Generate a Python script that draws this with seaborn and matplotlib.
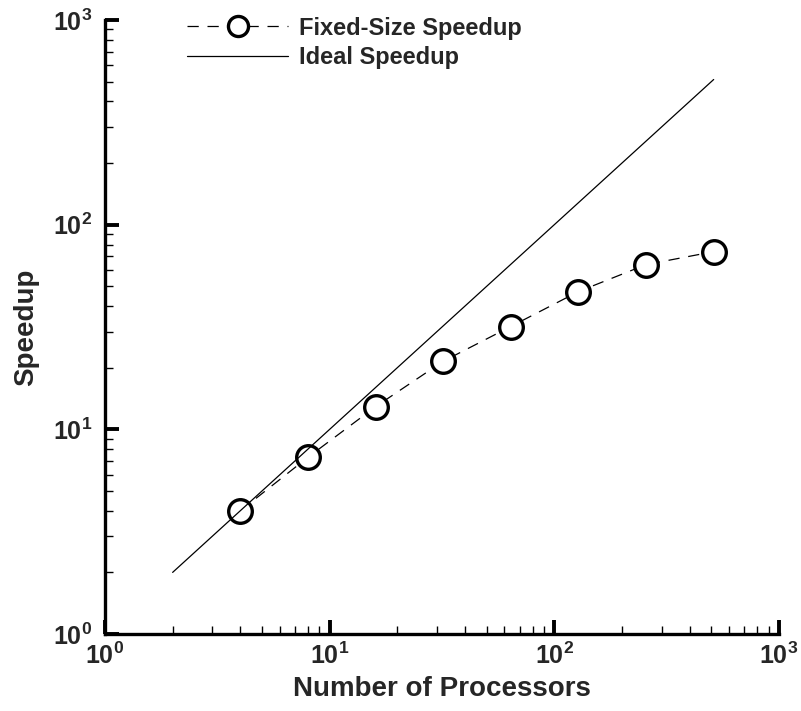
import numpy as np
import pandas as pd
import matplotlib
matplotlib.use("Agg")
import matplotlib.pyplot as plt
from matplotlib.ticker import FuncFormatter, LogLocator
import seaborn as sns

processors = [4, 8, 16, 32, 64, 128, 256, 512]
speedup = [4.0, 7.3, 12.9, 21.5, 31.8, 47.1, 63.8, 73.8]
ideal_x = [2, 512]
ideal_y = [2, 512]
x_label = "Number of Processors"
y_label = "Speedup"
legend_labels = ["Fixed-Size Speedup", "Ideal Speedup"]

sns.set_style("ticks")
plt.rcParams['font.family'] = ['Liberation Sans', 'DejaVu Sans']
plt.rcParams['mathtext.fontset'] = 'custom'
plt.rcParams['mathtext.bf'] = 'Liberation Sans:bold'
plt.rcParams['mathtext.rm'] = 'Liberation Sans'

fig = plt.figure(figsize=(8.01, 7.11), dpi=100)
ax = fig.add_axes([105/801, 77/711, 674/801, 614/711])

df = pd.DataFrame({"p": processors, "s": speedup})
di = pd.DataFrame({"p": ideal_x, "s": ideal_y})

sns.lineplot(data=df, x="p", y="s", ax=ax, color="black", lw=0.9,
             marker="o", markersize=17, markerfacecolor="white",
             markeredgecolor="black", markeredgewidth=2.4,
             dashes=False, linestyle=(0, (9, 7)), label=legend_labels[0])
sns.lineplot(data=di, x="p", y="s", ax=ax, color="black", lw=0.9,
             label=legend_labels[1])

ax.set_xscale("log")
ax.set_yscale("log")
ax.set_xlim(1, 1000)
ax.set_ylim(1, 1000)

fmt = FuncFormatter(lambda v, pos: r'$\mathbf{10^{%d}}$' % int(round(np.log10(v))))
ax.xaxis.set_major_formatter(fmt)
ax.yaxis.set_major_formatter(fmt)
ax.xaxis.set_major_locator(LogLocator(base=10, numticks=10))
ax.yaxis.set_major_locator(LogLocator(base=10, numticks=10))
ax.xaxis.set_minor_locator(LogLocator(base=10, subs=np.arange(2, 10), numticks=10))
ax.yaxis.set_minor_locator(LogLocator(base=10, subs=np.arange(2, 10), numticks=10))

ax.tick_params(which='major', direction='in', length=10, width=2.8, labelsize=18, pad=6, color='black')
ax.tick_params(which='minor', direction='in', length=6, width=1.0, color='black')
ax.tick_params(axis='y', which='major', pad=9)

for side in ['top', 'right']:
    ax.spines[side].set_visible(False)
for side in ['left', 'bottom']:
    ax.spines[side].set_linewidth(2.4)
    ax.spines[side].set_color('black')

ax.set_xlabel(x_label, fontsize=20, fontweight='bold', labelpad=5)
ax.set_ylabel(y_label, fontsize=20, fontweight='bold', labelpad=10)

leg = ax.legend(loc='upper left', bbox_to_anchor=(0.09, 1.04), frameon=False,
                handlelength=4.3, handletextpad=0.45, labelspacing=0.28,
                markerscale=0.85, prop={'weight': 'bold', 'size': 17})

fig.savefig("out.png", dpi=100, facecolor="white")
